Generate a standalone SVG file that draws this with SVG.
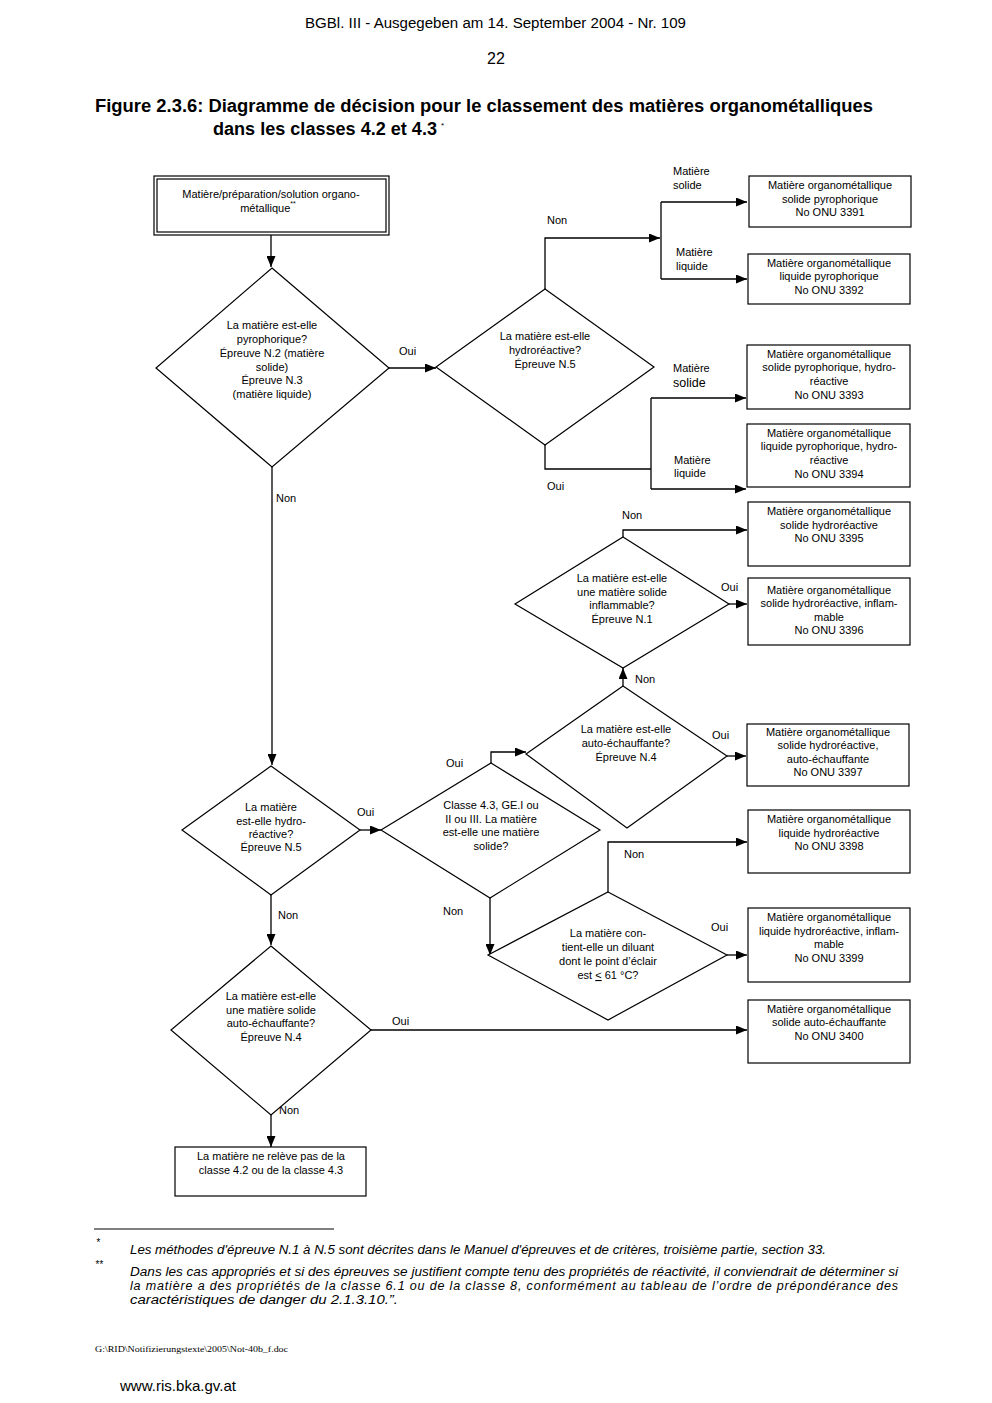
<svg xmlns="http://www.w3.org/2000/svg" width="992" height="1403" viewBox="0 0 992 1403">
<style>
text{font-family:"Liberation Sans",Arial,sans-serif;fill:#000}
.t{font-size:11px;text-anchor:middle}
.l{font-size:11px}
.box{fill:#fff;stroke:#000;stroke-width:1.2}
.dia{fill:#fff;stroke:#000;stroke-width:1.2}
.c{fill:none;stroke:#000;stroke-width:1.3}
.fn{font-size:12.5px;font-style:italic}
</style>
<defs>
<marker id="ah" markerWidth="11" markerHeight="9" refX="11" refY="4.5" orient="auto" markerUnits="userSpaceOnUse"><path d="M0,0 L11,4.5 L0,9 z" fill="#000"/></marker>
</defs>
<rect width="992" height="1403" fill="#fff"/>
<text x="305" y="28" style="font-size:14px" textLength="381" lengthAdjust="spacingAndGlyphs">BGBl. III - Ausgegeben am 14. September 2004 - Nr. 109</text>
<text x="496" y="64" style="font-size:16px;text-anchor:middle">22</text>
<text x="95" y="112" style="font-size:17.5px;font-weight:bold" textLength="778" lengthAdjust="spacingAndGlyphs">Figure 2.3.6:  Diagramme de décision pour le classement des matières organométalliques</text>
<text x="213" y="135" style="font-size:17.5px;font-weight:bold" textLength="224" lengthAdjust="spacingAndGlyphs">dans les classes 4.2 et 4.3</text>
<text x="441" y="128" style="font-size:8px">*</text>

<g id="connectors">
<path class="c" d="M271,235 V267" marker-end="url(#ah)"/>
<path class="c" d="M389,368 H436" marker-end="url(#ah)"/>
<path class="c" d="M545,289 V238 H660" marker-end="url(#ah)"/>
<path class="c" d="M661,202 V279"/>
<path class="c" d="M661,202 H747" marker-end="url(#ah)"/>
<path class="c" d="M661,279 H747" marker-end="url(#ah)"/>
<path class="c" d="M545,445 V469 H651"/>
<path class="c" d="M651,398 V489"/>
<path class="c" d="M651,398 H746" marker-end="url(#ah)"/>
<path class="c" d="M651,489 H746" marker-end="url(#ah)"/>
<path class="c" d="M272,467 V765" marker-end="url(#ah)"/>
<path class="c" d="M360,830 H381" marker-end="url(#ah)"/>
<path class="c" d="M491,763 V752 H526" marker-end="url(#ah)"/>
<path class="c" d="M727,756 H746" marker-end="url(#ah)"/>
<path class="c" d="M623,686 V668" marker-end="url(#ah)"/>
<path class="c" d="M623,537 V530 H747" marker-end="url(#ah)"/>
<path class="c" d="M729,604 H747" marker-end="url(#ah)"/>
<path class="c" d="M490,898 V955" marker-end="url(#ah)"/>
<path class="c" d="M608,892 V842 H747" marker-end="url(#ah)"/>
<path class="c" d="M727,955 H747" marker-end="url(#ah)"/>
<path class="c" d="M271,895 V945" marker-end="url(#ah)"/>
<path class="c" d="M371,1030 H747" marker-end="url(#ah)"/>
<path class="c" d="M271,1115 V1147" marker-end="url(#ah)"/>
<text class="l" x="399" y="355">Oui</text>
<text class="l" x="547" y="224">Non</text>
<text class="l" x="673" y="175">Matière</text>
<text class="l" x="673" y="189">solide</text>
<text class="l" x="676" y="256">Matière</text>
<text class="l" x="676" y="270">liquide</text>
<text class="l" x="547" y="490">Oui</text>
<text class="l" x="673" y="372">Matière</text>
<text class="l" x="673" y="387" style="font-size:12.5px">solide</text>
<text class="l" x="674" y="464">Matière</text>
<text class="l" x="674" y="477">liquide</text>
<text class="l" x="276" y="502">Non</text>
<text class="l" x="622" y="519">Non</text>
<text class="l" x="721" y="591">Oui</text>
<text class="l" x="635" y="683">Non</text>
<text class="l" x="712" y="739">Oui</text>
<text class="l" x="446" y="767">Oui</text>
<text class="l" x="357" y="816">Oui</text>
<text class="l" x="624" y="858">Non</text>
<text class="l" x="443" y="915">Non</text>
<text class="l" x="711" y="931">Oui</text>
<text class="l" x="278" y="919">Non</text>
<text class="l" x="392" y="1025">Oui</text>
<text class="l" x="279" y="1114">Non</text>
</g>

<g id="start">
<rect class="box" x="154" y="176" width="235" height="59"/>
<rect class="box" x="157" y="179" width="229" height="53"/>
<text class="t" x="271" y="198">Matière/préparation/solution organo-</text>
<text class="t" x="268" y="212">métallique<tspan style="font-size:7px" dy="-6">**</tspan></text>
</g>

<g id="d1">
<polygon class="dia" points="272,268 389,368 272,467 156,368"/>
<text class="t" x="272" y="329">La matière est-elle</text>
<text class="t" x="272" y="343">pyrophorique?</text>
<text class="t" x="272" y="357">Épreuve N.2 (matière</text>
<text class="t" x="272" y="371">solide)</text>
<text class="t" x="272" y="384">Épreuve N.3</text>
<text class="t" x="272" y="398">(matière liquide)</text>
</g>

<g id="d2">
<polygon class="dia" points="545,289 654,367 545,445 436,367"/>
<text class="t" x="545" y="340">La matière est-elle</text>
<text class="t" x="545" y="354">hydroréactive?</text>
<text class="t" x="545" y="368">Épreuve N.5</text>
</g>

<g id="b3391">
<rect class="box" x="749" y="176" width="162" height="51"/>
<text class="t" x="830" y="189">Matière organométallique</text>
<text class="t" x="830" y="203">solide  pyrophorique</text>
<text class="t" x="830" y="216">No ONU 3391</text>
</g>
<g id="b3392">
<rect class="box" x="748" y="254" width="162" height="50"/>
<text class="t" x="829" y="267">Matière organométallique</text>
<text class="t" x="829" y="280">liquide pyrophorique</text>
<text class="t" x="829" y="294">No ONU 3392</text>
</g>
<g id="b3393">
<rect class="box" x="747" y="345" width="163" height="64"/>
<text class="t" x="829" y="358">Matière organométallique</text>
<text class="t" x="829" y="371">solide pyrophorique, hydro-</text>
<text class="t" x="829" y="385">réactive</text>
<text class="t" x="829" y="399">No ONU 3393</text>
</g>
<g id="b3394">
<rect class="box" x="747" y="424" width="163" height="63"/>
<text class="t" x="829" y="437">Matière organométallique</text>
<text class="t" x="829" y="450">liquide pyrophorique, hydro-</text>
<text class="t" x="829" y="464">réactive</text>
<text class="t" x="829" y="478">No ONU 3394</text>
</g>

<g id="b3395">
<rect class="box" x="748" y="502" width="162" height="64"/>
<text class="t" x="829" y="515">Matière organométallique</text>
<text class="t" x="829" y="529">solide hydroréactive</text>
<text class="t" x="829" y="542">No ONU 3395</text>
</g>
<g id="d6">
<polygon class="dia" points="623,537 729,604 623,668 515,604"/>
<text class="t" x="622" y="582">La matière est-elle</text>
<text class="t" x="622" y="596">une matière solide</text>
<text class="t" x="622" y="609">inflammable?</text>
<text class="t" x="622" y="623">Épreuve N.1</text>
</g>
<g id="b3396">
<rect class="box" x="748" y="578" width="162" height="67"/>
<text class="t" x="829" y="594">Matière organométallique</text>
<text class="t" x="829" y="607">solide hydroréactive, inflam-</text>
<text class="t" x="829" y="621">mable</text>
<text class="t" x="829" y="634">No ONU 3396</text>
</g>

<g id="d5">
<polygon class="dia" points="623,686 727,756 627,828 526,754"/>
<text class="t" x="626" y="733">La matière est-elle</text>
<text class="t" x="626" y="747">auto-échauffante?</text>
<text class="t" x="626" y="761">Épreuve N.4</text>
</g>
<g id="b3397">
<rect class="box" x="747" y="724" width="162" height="62"/>
<text class="t" x="828" y="736">Matière organométallique</text>
<text class="t" x="828" y="749">solide hydroréactive,</text>
<text class="t" x="828" y="763">auto-échauffante</text>
<text class="t" x="828" y="776">No ONU 3397</text>
</g>

<g id="d3">
<polygon class="dia" points="271,766 360,830 271,895 182,830"/>
<text class="t" x="271" y="811">La matière</text>
<text class="t" x="271" y="825">est-elle hydro-</text>
<text class="t" x="271" y="838">réactive?</text>
<text class="t" x="271" y="851">Épreuve N.5</text>
</g>
<g id="d4">
<polygon class="dia" points="491,763 600,830 490,898 381,830"/>
<text class="t" x="491" y="809">Classe 4.3, GE.I ou</text>
<text class="t" x="491" y="823">II ou III. La matière</text>
<text class="t" x="491" y="836">est-elle une matière</text>
<text class="t" x="491" y="850">solide?</text>
</g>
<g id="b3398">
<rect class="box" x="748" y="810" width="162" height="63"/>
<text class="t" x="829" y="823">Matière organométallique</text>
<text class="t" x="829" y="837">liquide hydroréactive</text>
<text class="t" x="829" y="850">No ONU 3398</text>
</g>
<g id="d7">
<polygon class="dia" points="608,892 727,955 608,1020 488,955"/>
<text class="t" x="608" y="937">La matière con-</text>
<text class="t" x="608" y="951">tient-elle un diluant</text>
<text class="t" x="608" y="965">dont le point d’éclair</text>
<text class="t" x="608" y="979">est <tspan text-decoration="underline">&lt;</tspan> 61 °C?</text>
</g>
<g id="b3399">
<rect class="box" x="748" y="908" width="162" height="74"/>
<text class="t" x="829" y="921">Matière organométallique</text>
<text class="t" x="829" y="935">liquide hydroréactive, inflam-</text>
<text class="t" x="829" y="948">mable</text>
<text class="t" x="829" y="962">No ONU 3399</text>
</g>
<g id="d8">
<polygon class="dia" points="271,946 371,1030 271,1115 171,1030"/>
<text class="t" x="271" y="1000">La matière est-elle</text>
<text class="t" x="271" y="1014">une matière solide</text>
<text class="t" x="271" y="1027">auto-échauffante?</text>
<text class="t" x="271" y="1041">Épreuve N.4</text>
</g>
<g id="b3400">
<rect class="box" x="748" y="1000" width="162" height="63"/>
<text class="t" x="829" y="1013">Matière organométallique</text>
<text class="t" x="829" y="1026">solide auto-échauffante</text>
<text class="t" x="829" y="1040">No ONU 3400</text>
</g>
<g id="final">
<rect class="box" x="175" y="1147" width="191" height="49"/>
<text class="t" x="271" y="1160">La matière ne relève pas de la</text>
<text class="t" x="271" y="1174">classe 4.2 ou de la classe 4.3</text>
</g>

<line x1="94" y1="1229" x2="334" y2="1229" stroke="#000" stroke-width="1"/>
<text x="96" y="1246" style="font-size:10px;font-style:italic">*</text>
<text class="fn" x="130" y="1254" textLength="696" lengthAdjust="spacingAndGlyphs">Les méthodes d'épreuve N.1 à N.5 sont décrites dans le Manuel d'épreuves et de critères, troisième partie, section 33.</text>
<text x="95" y="1268" style="font-size:10px;font-style:italic">**</text>
<text class="fn" x="130" y="1276" textLength="768" lengthAdjust="spacingAndGlyphs">Dans les cas appropriés et si des épreuves se justifient compte tenu des propriétés de réactivité, il conviendrait de déterminer si</text>
<text class="fn" x="130" y="1290" textLength="768" lengthAdjust="spacing">la matière a des propriétés de la classe 6.1 ou de la classe 8, conformément au tableau de l’ordre de prépondérance des</text>
<text class="fn" x="130" y="1304" textLength="268" lengthAdjust="spacingAndGlyphs">caractéristiques de danger du 2.1.3.10.”.</text>
<text x="95" y="1352" style="font-family:'Liberation Serif',serif;font-size:8px" textLength="193" lengthAdjust="spacingAndGlyphs">G:\RID\Notifizierungstexte\2005\Not-40b_f.doc</text>
<text x="120" y="1391" style="font-size:15px" textLength="116" lengthAdjust="spacingAndGlyphs">www.ris.bka.gv.at</text>
</svg>
